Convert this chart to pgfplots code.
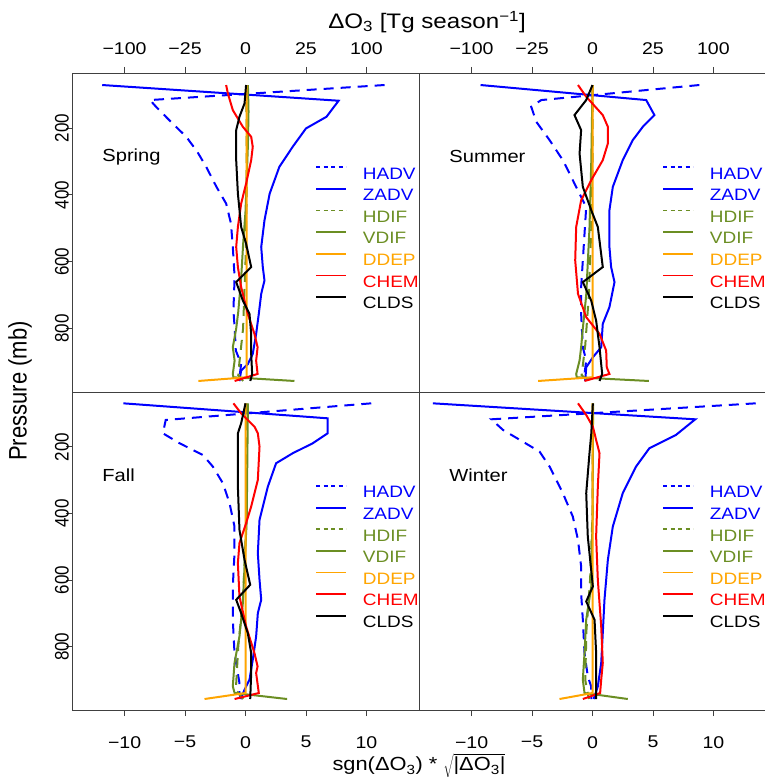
\documentclass[border=0pt]{standalone}
\usepackage{pgfplots}
\pgfplotsset{compat=1.18}
\usepackage{graphicx}
\usepackage{fontspec}
\setmainfont{Liberation Sans}[FakeStretch=1.15]
\newfontfamily\rotfont{Liberation Sans}
\definecolor{cB}{RGB}{0,0,255}
\definecolor{cG}{RGB}{107,142,35}
\definecolor{cO}{RGB}{255,165,0}
\definecolor{cR}{RGB}{255,0,0}
\definecolor{cK}{RGB}{0,0,0}
\pgfplotsset{
  panel/.style={
    scale only axis, width=347pt,
    xmin=-14.35, xmax=14.35, ymin=35, ymax=990, y dir=reverse,
    axis line style={black!75, line width=0.9pt},
    every tick/.style={black!75, line width=0.9pt},
    tick align=outside, major tick length=6pt,
    xtick={-10,-5,0,5,10},
    ticklabel style={font=\fontsize{17}{17}\selectfont, inner sep=0pt},
    legend style={at={(0.700,0.708)}, anchor=north west, draw=none, fill=none,
      inner sep=0pt, font=\fontsize{16.5}{16.5}\selectfont, row sep=9pt,
      nodes={inner sep=0pt, text height=11.5pt, text depth=0pt},
      /tikz/every odd column/.append style={column sep=16pt}},
    legend cell align=left,
    legend image code/.code={\draw[##1] (0pt,6pt) -- (30pt,6pt);},
  },
  top/.style={xtick pos=right, xticklabel pos=right, xticklabel shift=12.5pt, xticklabels={−100,−25,0,25,100}},
  bot/.style={xtick pos=left, xticklabel pos=left, xticklabel shift=20pt, xticklabels={−10,−5,0,5,10}},
  lft/.style={ytick={200,400,600,800}, ytick pos=left, yticklabel shift=-3pt,
    yticklabels={{\rotfont\scalebox{1}[1.15]{200}},{\rotfont\scalebox{1}[1.15]{400}},{\rotfont\scalebox{1}[1.15]{600}},{\rotfont\scalebox{1}[1.15]{800}}},
    yticklabel style={rotate=90, anchor=south}},
  rgt/.style={ytick=\empty},
  hadv/.style={cB, line width=2pt, dash pattern=on 10pt off 7pt},
  zadv/.style={cB, line width=2pt},
  hdif/.style={cG, line width=2pt, dash pattern=on 10pt off 7pt},
  vdif/.style={cG, line width=2pt},
  ddep/.style={cO, line width=2pt},
  chem/.style={cR, line width=2pt},
  clds/.style={cK, line width=2pt},
}
\newcommand{\seasonlegend}{%
  \addlegendimage{cB, line width=1.8pt, dash pattern=on 4pt off 3.5pt}\addlegendentry{\textcolor{cB}{HADV}}
  \addlegendimage{cB, line width=1.8pt}\addlegendentry{\textcolor{cB}{ZADV}}
  \addlegendimage{cG, line width=1.8pt, dash pattern=on 4pt off 3.5pt}\addlegendentry{\textcolor{cG}{HDIF}}
  \addlegendimage{cG, line width=1.8pt}\addlegendentry{\textcolor{cG}{VDIF}}
  \addlegendimage{cO, line width=1.8pt}\addlegendentry{\textcolor{cO}{DDEP}}
  \addlegendimage{cR, line width=1.8pt}\addlegendentry{\textcolor{cR}{CHEM}}
  \addlegendimage{cK, line width=1.8pt}\addlegendentry{\textcolor{cK}{CLDS}}
}
\newcommand{\seasonlabel}[1]{\node[anchor=west, inner sep=0pt, font=\fontsize{17.5}{17.5}\selectfont] at (axis description cs:0.087,0.737) {#1};}
\begin{document}
\begin{tikzpicture}
\path[use as bounding box] (0pt,0pt) rectangle (765pt,777pt);
% ---------------- Spring ----------------
\begin{axis}[panel, top, lft, at={(72pt,385pt)}, anchor=south west, height=319pt]
\addplot[hadv, forget plot] coordinates {(11.5,71) (-7.9,116) (-7.4,136) (-6.2,180) (-4.9,226) (-4.0,270) (-3.25,316) (-2.4,376) (-1.6,426) (-1.2,486) (-1.05,556) (-0.9,646) (-1.0,746) (-0.9,796) (-0.8,866) (-0.36,906) (-0.5,946) (-0.4,957)};
\addplot[zadv, forget plot] coordinates {(-11.85,71) (7.7,118) (6.7,166) (5.0,201) (3.9,256) (2.8,316) (2.0,396) (1.57,476) (1.3,556) (1.43,616) (1.57,656) (1.3,696) (1.1,756) (0.88,816) (0.6,876) (0.2,906) (-0.36,926) (-0.5,957)};
\addplot[hdif, forget plot] coordinates {(0.05,71) (0.1,200) (0.1,400) (0,600) (-0.2,800) (-0.5,900) (-0.6,940) (-0.2,957)};
\addplot[vdif, forget plot] coordinates {(0.2,71) (0.25,150) (0.2,250) (0.1,350) (0,450) (-0.2,550) (-0.36,650) (-0.6,750) (-0.77,800) (-1.05,856) (-0.9,896) (-1.05,936) (-1.0,946) (4.05,957)};
\addplot[ddep, forget plot] coordinates {(0.1,71) (0.1,300) (0.1,600) (0.1,900) (0.1,946) (-3.9,957)};
\addplot[chem, forget plot] coordinates {(-1.6,71) (-1.46,96) (-1.05,146) (-0.22,196) (0.47,226) (0.6,256) (0.47,296) (0.05,366) (-0.36,426) (-0.63,496) (-0.77,556) (-0.63,616) (-0.36,676) (0.19,756) (0.74,816) (1.0,856) (0.88,896) (1.0,936) (-0.9,957)};
\addplot[clds, forget plot] coordinates {(0.05,71) (-0.08,126) (-0.5,166) (-0.77,206) (-0.77,296) (-0.63,396) (-0.36,496) (0.05,546) (0.47,616) (-0.77,661) (-0.22,716) (0.33,756) (0.47,816) (0.47,876) (0.55,936) (0.4,957)};
\seasonlegend
\seasonlabel{Spring}
\end{axis}
% ---------------- Summer ----------------
\begin{axis}[panel, top, rgt, at={(419pt,385pt)}, anchor=south west, height=319pt]
\addplot[hadv, forget plot] coordinates {(8.84,71) (-4.24,116) (-5.07,136) (-4.65,181) (-3.55,236) (-2.45,296) (-1.35,376) (-0.52,436) (-0.66,516) (-0.8,596) (-0.94,676) (-0.94,756) (-0.8,856) (-0.52,896) (-0.66,936) (-0.6,957)};
\addplot[zadv, forget plot] coordinates {(-9.26,71) (4.44,116) (5.12,161) (4.16,196) (3.33,236) (2.5,296) (1.68,376) (1.4,446) (1.4,556) (1.54,616) (1.82,661) (1.4,736) (0.85,786) (0.72,856) (0.03,886) (-0.52,916) (-0.58,946) (-0.6,957)};
\addplot[hdif, forget plot] coordinates {(0,71) (0,300) (-0.1,500) (-0.3,700) (-0.6,850) (-0.9,940) (-0.3,957)};
\addplot[vdif, forget plot] coordinates {(0,71) (-0.1,300) (-0.25,500) (-0.52,700) (-0.8,800) (-0.94,856) (-1.07,896) (-1.35,936) (-1.3,946) (4.66,957)};
\addplot[ddep, forget plot] coordinates {(0,71) (0,946) (-4.5,957)};
\addplot[chem, forget plot] coordinates {(-1.2,71) (-0.52,106) (0.85,161) (1.27,196) (1.27,246) (0.85,296) (-0.11,356) (-0.94,416) (-1.35,496) (-1.43,596) (-1.2,696) (-0.52,766) (0.58,816) (1.13,866) (1.18,916) (1.4,936) (-0.66,957)};
\addplot[clds, forget plot] coordinates {(0,71) (-0.52,116) (-1.49,161) (-0.94,206) (-1.07,276) (-0.8,376) (-0.1,446) (0.44,496) (0.85,616) (-0.8,661) (-0.11,716) (0.3,776) (0.58,856) (0.8,936) (0.58,957)};
\seasonlegend
\seasonlabel{Summer}
\end{axis}
% ---------------- Fall ----------------
\begin{axis}[panel, bot, lft, at={(72pt,67pt)}, anchor=south west, height=318pt]
\addplot[hadv, forget plot] coordinates {(10.4,69) (-6.6,119) (-6.83,159) (-5.45,189) (-3.53,224) (-2.7,259) (-1.87,309) (-1.32,369) (-0.91,439) (-0.91,519) (-1.05,619) (-1.05,719) (-0.91,819) (-0.5,909) (-0.5,939) (-0.4,957)};
\addplot[zadv, forget plot] coordinates {(-10.1,69) (6.8,114) (6.8,159) (5.56,189) (3.9,219) (2.53,249) (1.85,319) (1.16,419) (1.02,519) (1.16,599) (1.3,659) (1.02,699) (0.88,769) (0.6,839) (0.33,899) (-0.08,929) (-0.4,957)};
\addplot[hdif, forget plot] coordinates {(0.1,69) (0.1,400) (-0.2,650) (-0.6,800) (-0.8,930) (-0.2,957)};
\addplot[vdif, forget plot] coordinates {(0.2,69) (0.1,419) (-0.22,669) (-0.5,769) (-0.91,849) (-1.05,919) (-0.9,939) (3.44,957)};
\addplot[ddep, forget plot] coordinates {(0,69) (0,939) (-3.39,957)};
\addplot[chem, forget plot] coordinates {(-1.0,69) (-0.36,99) (0.74,139) (1.02,159) (1.16,199) (1.02,299) (0.47,379) (0.05,429) (-0.5,489) (-0.63,549) (-0.5,649) (0.05,739) (0.74,819) (1.0,859) (0.88,879) (1.1,939) (-0.9,957)};
\addplot[clds, forget plot] coordinates {(0,69) (-0.36,129) (-0.63,159) (-0.63,319) (-0.5,449) (-0.08,539) (0.39,614) (-0.77,659) (-0.36,699) (0.19,759) (0.47,819) (0.47,879) (0.39,957)};
\seasonlegend
\seasonlabel{Fall}
\end{axis}
% ---------------- Winter ----------------
\begin{axis}[panel, bot, rgt, at={(419pt,67pt)}, anchor=south west, height=318pt]
\addplot[hadv, forget plot] coordinates {(13.5,69) (-8.37,117) (-7.4,149) (-6.0,179) (-4.38,214) (-3.55,259) (-2.45,339) (-1.63,409) (-1.2,479) (-0.94,559) (-0.94,639) (-0.8,719) (-0.66,819) (-0.39,889) (-0.11,919) (-0.1,957)};
\addplot[zadv, forget plot] coordinates {(-13.2,69) (8.5,117) (6.9,164) (4.7,204) (3.6,259) (2.5,339) (1.68,439) (1.27,539) (0.99,659) (0.85,759) (0.72,849) (0.44,919) (0.17,949) (0.1,957)};
\addplot[hdif, forget plot] coordinates {(0,69) (0,400) (-0.2,600) (-0.5,750) (-0.6,900) (-0.3,957)};
\addplot[vdif, forget plot] coordinates {(0.05,69) (0,419) (-0.1,619) (-0.52,719) (-0.66,819) (-0.8,899) (-0.66,939) (2.92,957)};
\addplot[ddep, forget plot] coordinates {(0,69) (0,939) (-2.73,957)};
\addplot[chem, forget plot] coordinates {(-1.2,69) (-0.52,104) (0.03,139) (0.3,179) (0.58,219) (0.44,319) (0.3,469) (0.44,599) (0.72,739) (0.85,849) (0.72,899) (0.63,939) (-0.8,957)};
\addplot[clds, forget plot] coordinates {(0.03,69) (-0.1,159) (-0.25,219) (-0.52,339) (-0.39,469) (0.03,619) (-0.52,664) (0.17,719) (0.3,819) (0.3,957)};
\seasonlegend
\seasonlabel{Winter}
\end{axis}
% ---------------- outer labels ----------------
\node[font=\fontsize{21}{21}\selectfont] at (427pt,755pt) {ΔO\textsubscript{3} [Tg season\textsuperscript{−1}]};
\node[anchor=base, inner sep=0pt, font=\fontsize{19}{19}\selectfont] at (419pt,6pt) {sgn(ΔO\textsubscript{3}) * $\sqrt{\mbox{|ΔO\textsubscript{3}|}}$};
\node[rotate=90, font=\rotfont\fontsize{22}{22}\selectfont] at (20pt,386pt) {\scalebox{1}[1.15]{Pressure (mb)}};
\end{tikzpicture}
\end{document}
